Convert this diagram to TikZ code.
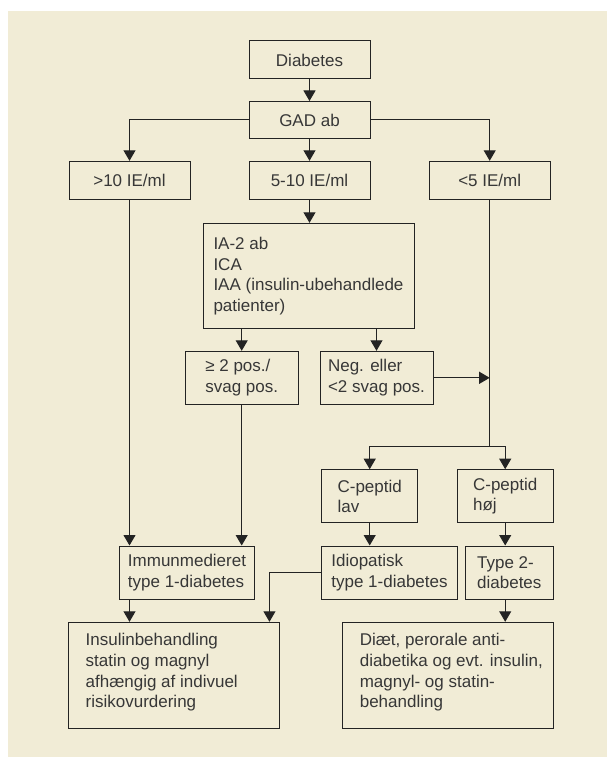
\documentclass[tikz,border=0pt]{standalone}
\usepackage{fontspec}
\setmainfont{Liberation Sans}
\usetikzlibrary{arrows.meta,calc}
\definecolor{bgbeige}{RGB}{241,236,214}
\definecolor{inkline}{RGB}{35,35,35}
\definecolor{inktext}{RGB}{55,55,55}
\begin{document}
\begin{tikzpicture}[x=1pt,y=-1pt,
  box/.style={draw=inkline,line width=1pt,fill=bgbeige,inner sep=0pt,align=left,
    text=inktext,font={\fontsize{17pt}{20.5pt}\selectfont},minimum width=#1},
  box/.default=121pt,
  txt/.style={inner sep=0pt,align=left,text=inktext,font={\fontsize{17pt}{20.8pt}\selectfont}},
  conn/.style={draw=inkline,line width=1pt},
  arr/.style={conn,-{Triangle[length=10.5pt,width=12pt]}}]
\useasboundingbox (0,0) rectangle (607,757);
\fill[bgbeige] (8,11) rectangle (607,757);
% nodes
\node[box,minimum height=38pt] (diab) at (309.5,60) {Diabetes};
\node[box,minimum height=37pt] (gad) at (309.5,120) {GAD ab};
\node[box,minimum height=38pt] (g10) at (129.5,180.3) {>10 IE/ml};
\node[box,minimum height=38pt] (g510) at (309.5,180.3) {5-10 IE/ml};
\node[box,minimum height=38pt] (g5) at (489.7,180.3) {<5 IE/ml};
\node[box=211pt,minimum height=105.4pt] (ia) at (308.5,276) {IA-2 ab\\ICA\\IAA (insulin-ubehandlede\\patienter)};
\node[box=113pt,minimum height=53pt] (pos2) at (241.7,377.8) {≥ 2 pos./\\svag pos.};
\node[box=113pt,minimum height=53pt] (neg) at (376.5,377.8) {Neg. eller\\<2 svag pos.};
\node[box=96pt,minimum height=53pt] (clav) at (369.7,496.2) {C-peptid\\lav};
\node[box=96pt,minimum height=53pt] (choj) at (505.2,496.2) {C-peptid\\høj};
\node[box=135.5pt,minimum height=53pt] (immun) at (187,572.5) {Immunmedieret\\type 1-diabetes};
\node[box=135.5pt,minimum height=53pt] (idio) at (389.5,572.5) {Idiopatisk\\type 1-diabetes};
\node[box=88.6pt,minimum height=53pt] (type2) at (509.3,572.5) {Type 2-\\diabetes};
\node[box=210.5pt,minimum height=106pt] (insul) at (174.2,675.3) {};
\node[txt,anchor=west] (insultxt) at ($(insul.west)+(17,-3)$) {Insulinbehandling\\statin og magnyl\\afhængig af indivuel\\risikovurdering};
\node[box=211pt,minimum height=106pt] (diaet) at (448.1,675.3) {};
\node[txt,anchor=west] (diaettxt) at ($(diaet.west)+(17.5,-3)$) {Diæt, perorale anti-\\diabetika og evt. insulin,\\magnyl- og statin-\\behandling};
% helper coordinates
\coordinate (join) at (g5.south |- neg.east);
\coordinate (split) at ($(g5.south)+(0,247)$);
\coordinate (insr) at ($(insul.north east)+(-10.5,0)$);
% connectors
\draw[arr] (diab) -- (gad);
\draw[arr] (gad.west) -| (g10.north);
\draw[arr] (gad) -- (g510);
\draw[arr] (gad.east) -| (g5.north);
\draw[arr] (g510.south) -- (g510.south |- ia.north);
\draw[arr] (pos2.north |- ia.south) -- (pos2.north);
\draw[arr] (neg.north |- ia.south) -- (neg.north);
\draw[arr] (neg.east) -- (join);
\draw[conn] (g5.south) -- (split);
\draw[arr] (split) -| (clav.north);
\draw[arr] (split) -| (choj.north);
\draw[arr] (clav.south) -- (clav.south |- idio.north);
\draw[arr] (choj.south) -- (choj.south |- type2.north);
\draw[arr] (choj.south |- type2.south) -- (choj.south |- diaet.north);
\draw[arr] (g10.south) -- (g10.south |- immun.north);
\draw[arr] (pos2.south) -- (pos2.south |- immun.north);
\draw[arr] (g10.south |- immun.south) -- (g10.south |- insul.north);
\draw[arr] (idio.west) -| (insr);
\end{tikzpicture}
\end{document}
